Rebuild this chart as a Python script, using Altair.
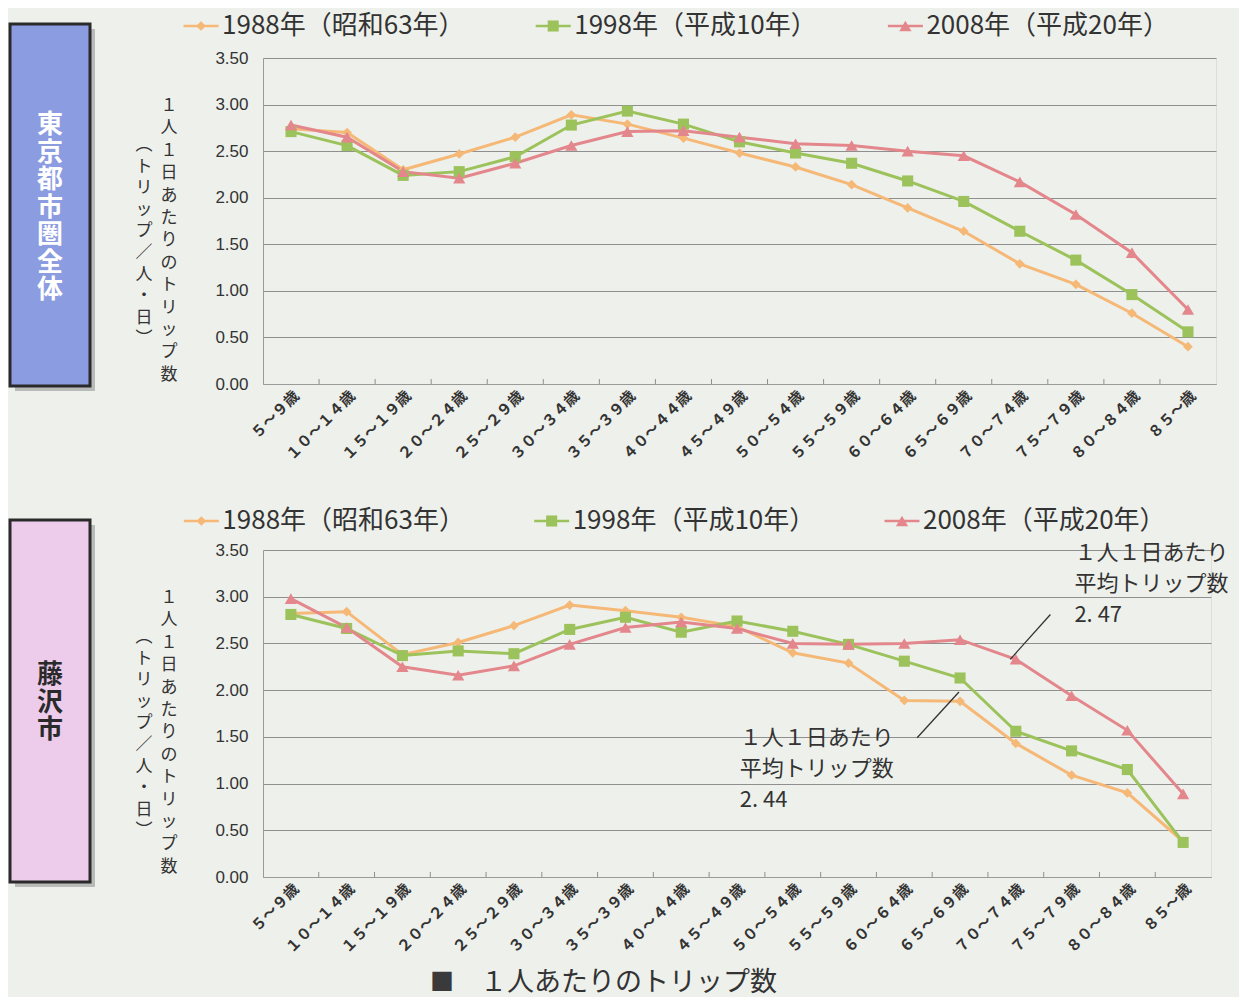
import altair as alt
import pandas as pd

ages = ["５～９歳", "１０～１４歳", "１５～１９歳", "２０～２４歳", "２５～２９歳", "３０～３４歳",
        "３５～３９歳", "４０～４４歳", "４５～４９歳", "５０～５４歳", "５５～５９歳", "６０～６４歳",
        "６５～６９歳", "７０～７４歳", "７５～７９歳", "８０～８４歳", "８５～歳"]
series = ["1988年（昭和63年）", "1998年（平成10年）", "2008年（平成20年）"]

tokyo_1988 = [2.74, 2.70, 2.30, 2.47, 2.65, 2.89, 2.79, 2.64, 2.48, 2.33, 2.14, 1.89, 1.64, 1.29, 1.07, 0.76, 0.40]
tokyo_1998 = [2.71, 2.56, 2.24, 2.28, 2.44, 2.78, 2.93, 2.79, 2.60, 2.48, 2.37, 2.18, 1.96, 1.64, 1.33, 0.96, 0.56]
tokyo_2008 = [2.78, 2.65, 2.28, 2.21, 2.37, 2.56, 2.71, 2.72, 2.65, 2.58, 2.56, 2.50, 2.45, 2.17, 1.82, 1.41, 0.80]

fuji_1988 = [2.82, 2.84, 2.38, 2.51, 2.69, 2.91, 2.85, 2.78, 2.68, 2.40, 2.29, 1.89, 1.88, 1.43, 1.09, 0.90, 0.38]
fuji_1998 = [2.81, 2.66, 2.37, 2.42, 2.39, 2.65, 2.78, 2.62, 2.74, 2.63, 2.49, 2.31, 2.13, 1.56, 1.35, 1.15, 0.37]
fuji_2008 = [2.98, 2.67, 2.25, 2.16, 2.26, 2.49, 2.67, 2.73, 2.66, 2.50, 2.49, 2.50, 2.54, 2.33, 1.94, 1.57, 0.89]

y_ticks = [0.0, 0.5, 1.0, 1.5, 2.0, 2.5, 3.0, 3.5]

# annotations (Fujisawa panel), in data coordinates
ann_text = ["１人１日あたり\n平均トリップ数\n2. 47", "１人１日あたり\n平均トリップ数\n2. 44"]
ann_idx = [14.05, 8.05]
ann_val = [3.57, 1.60]
lead_idx = [13.62, 11.98]
lead_val = [2.81, 1.98]
lead_idx2 = [12.90, 11.23]
lead_val2 = [2.33, 1.49]

colors = ["#f5b877", "#9cc25b", "#e3878c"]
shapes = ["diamond", "square", "triangle-up"]
sizes = [95, 150, 140]
FONT = "Noto Sans CJK JP"
BG = "#eef0eb"

label_expr = "[" + ",".join("'" + a + "'" for a in ages) + "][datum.value]"


def long_df(vals):
    rows = []
    for s, v in zip(series, vals):
        for i, (a, y) in enumerate(zip(ages, v)):
            rows.append({"series": s, "idx": i, "age": a, "value": y})
    return pd.DataFrame(rows)


Y_AXIS = alt.Axis(values=y_ticks, format=".2f", title=None, ticks=False, tickSize=0,
                  grid=True, gridColor="#8f8f8f", gridWidth=1, domainColor="#9a9a9a",
                  labelFontSize=17, labelPadding=15, labelColor="#333",
                  labelFont="Liberation Sans")


def xs(field, axis=None):
    return alt.X(f"{field}:Q", scale=alt.Scale(domain=[-0.5, 16.5], nice=False, zero=False), axis=axis)


def ys(field):
    return alt.Y(f"{field}:Q", scale=alt.Scale(domain=[0, 3.5], nice=False, zero=True), axis=Y_AXIS)


color = alt.Color("series:N", scale=alt.Scale(domain=series, range=colors), legend=None)
shape = alt.Shape("series:N", scale=alt.Scale(domain=series, range=shapes), legend=None)
size = alt.Size("series:O", scale=alt.Scale(domain=series, range=sizes), legend=None)


def panel(vals, W, H, box_left, box_top, box_fill, box_label, box_text_color,
          box_text_top, leg_y, annotate=False, caption=False):
    df = long_df(vals)
    base = alt.Chart(df)
    one = pd.DataFrame({"k": [0]})

    x_axis = alt.Axis(values=list(range(17)), labelExpr=label_expr, labelAngle=-45,
                      ticks=False, grid=False, title=None, labelFontSize=15,
                      labelFontWeight="bold", labelColor="#333", domainColor="#9a9a9a",
                      labelPadding=4, labelFont=FONT, labelOverlap=False)

    layers = []
    # box shadow and box
    layers.append(alt.Chart(one).mark_rect(fill="#b9bbb8").encode(
        x=alt.value(box_left + 5), x2=alt.value(box_left + 85),
        y=alt.value(box_top + 5), y2=alt.value(box_top + 367)))
    layers.append(alt.Chart(one).mark_rect(fill=box_fill, stroke="#2a2a2a", strokeWidth=3).encode(
        x=alt.value(box_left), x2=alt.value(box_left + 80),
        y=alt.value(box_top), y2=alt.value(box_top + 362)))
    layers.append(alt.Chart(one).mark_text(
        text="\n".join(box_label), lineBreak="\n", font=FONT, fontSize=26, fontWeight="bold",
        color=box_text_color, lineHeight=27.5, align="center", baseline="top").encode(
        x=alt.value(box_left + 40), y=alt.value(box_text_top)))
    # y title columns (vertical Japanese text)
    layers.append(alt.Chart(one).mark_text(
        text="\n".join("１人１日あたりのトリップ数"), lineBreak="\n", font=FONT, fontSize=17,
        color="#333", lineHeight=22.4, align="center", baseline="top").encode(
        x=alt.value(-94), y=alt.value(40)))
    layers.append(alt.Chart(one).mark_text(
        text="\n".join("︵トリップ／人・日︶"), lineBreak="\n", font=FONT, fontSize=17,
        color="#333", lineHeight=21.6, align="center", baseline="top").encode(
        x=alt.value(-119), y=alt.value(79)))

    # main lines (carry the axes)
    layers.append(base.mark_line(strokeWidth=3).encode(
        x=xs("idx", x_axis), y=ys("value"), color=color))
    # boundary ticks on the x axis
    tick_df = pd.DataFrame({"idx": [i + 0.5 for i in range(16)]})
    layers.append(alt.Chart(tick_df).mark_rule(color="#8f8f8f").encode(
        x=xs("idx"), y=alt.value(H), y2=alt.value(H - 5)))
    # markers
    layers.append(base.mark_point(filled=True, opacity=1).encode(
        x=xs("idx"), y=ys("value"), color=color, shape=shape, size=size))

    # legend, drawn through its own scale
    leg_df = pd.DataFrame({"series": series, "li": [0, 1, 2]})
    lx = alt.X("li:Q", scale=alt.Scale(domain=[0.176, 2.882], nice=False, zero=False), axis=None)
    legb = alt.Chart(leg_df)
    layers.append(legb.mark_point(shape="stroke", size=1225, strokeWidth=2.5, filled=False, opacity=1).encode(
        x=lx, y=alt.value(leg_y), color=color))
    layers.append(legb.mark_point(filled=True, opacity=1).encode(
        x=lx, y=alt.value(leg_y), color=color, shape=shape, size=size))
    layers.append(legb.mark_text(align="left", baseline="middle", dx=21, font=FONT, fontSize=26,
                                 color="#333").encode(x=lx, y=alt.value(leg_y), text="series:N"))

    if annotate:
        ann_df = pd.DataFrame({"idx": ann_idx, "value": ann_val, "t": ann_text})
        layers.append(alt.Chart(ann_df).mark_text(
            align="left", baseline="top", lineBreak="\n", font=FONT, fontSize=22,
            lineHeight=31, color="#333").encode(x=xs("idx"), y=ys("value"), text="t:N"))
        lead_df = pd.DataFrame({"idx": lead_idx, "value": lead_val,
                                "idx2": lead_idx2, "value2": lead_val2})
        layers.append(alt.Chart(lead_df).mark_rule(color="#333", strokeWidth=1.3).encode(
            x=xs("idx"), y=ys("value"), x2=alt.X2("idx2:Q"), y2=alt.Y2("value2:Q")))
    if caption:
        layers.append(alt.Chart(one).mark_text(
            text="■", font=FONT, fontSize=24, color="#3a3a3a", align="center",
            baseline="middle").encode(x=alt.value(179), y=alt.value(433)))
        layers.append(alt.Chart(one).mark_text(
            text="１人あたりのトリップ数", font=FONT, fontSize=27, color="#333", align="left",
            baseline="middle").encode(x=alt.value(217), y=alt.value(433)))

    return alt.layer(*layers).resolve_scale(x="independent").properties(width=W, height=H)


top = panel([tokyo_1988, tokyo_1998, tokyo_2008], 953, 326, -253, -34,
            "#8b9ce0", "東京都市圏全体", "#ffffff", 54, -32)
bottom = panel([fuji_1988, fuji_1998, fuji_2008], 948, 327, -253, -30,
               "#eccbeb", "藤沢市", "#2a2a2a", 112, -29, annotate=True, caption=True)

chart = alt.vconcat(top, bottom, spacing=44).properties(
    padding={"left": 0, "top": 4, "right": 10, "bottom": 0},
    background=BG,
).configure_view(stroke="#9a9a9a", fill=BG).configure(font=FONT)

chart.save("out.html", embed_options={"renderer": "svg", "actions": False})
